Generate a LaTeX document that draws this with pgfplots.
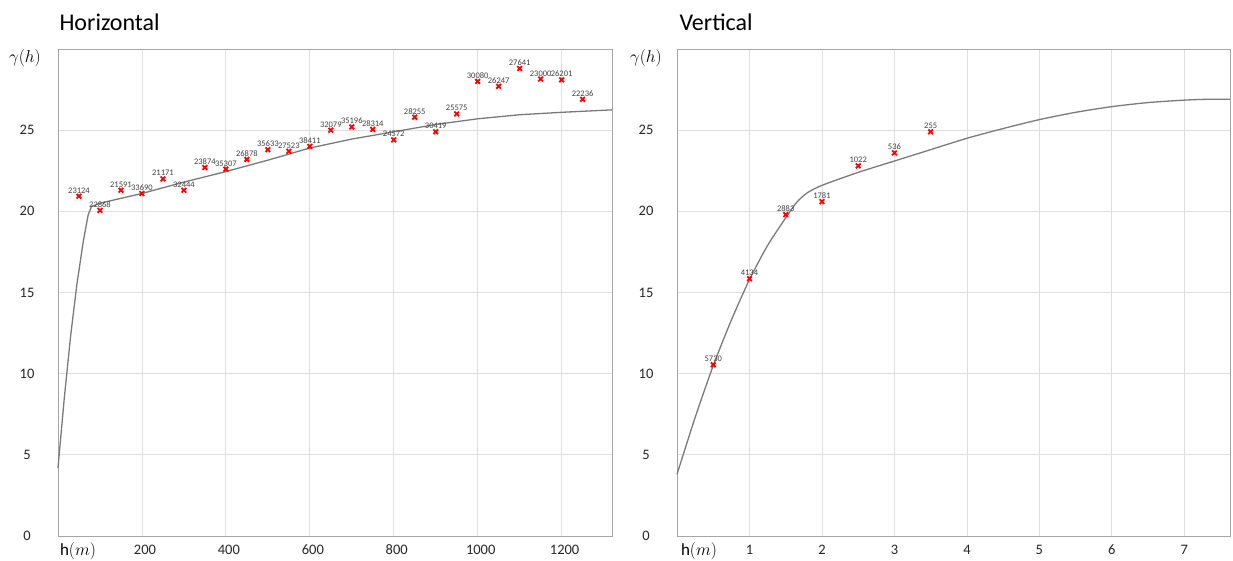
\documentclass[border=0pt]{standalone}
\usepackage{fontspec}
\setmainfont{Carlito}
\usepackage{pgfplots}
\pgfplotsset{compat=1.18}
\usepackage{pgfplotstable}

\definecolor{gridc}{HTML}{DFDFDF}
\definecolor{bordc}{HTML}{A6A6A6}
\definecolor{curvec}{HTML}{7A7A7A}
\definecolor{labc}{HTML}{262626}
\definecolor{ptlab}{HTML}{404040}

\pgfplotstableread{
x y lab
50 20.93 23124
100 20.06 22868
150 21.3 21591
200 21.1 33690
250 22.0 21171
300 21.3 32444
350 22.7 23874
400 22.6 35307
450 23.2 26878
500 23.8 35633
550 23.7 27523
600 24.0 38411
650 25.0 32079
700 25.2 35196
750 25.05 28314
800 24.4 24572
850 25.8 28255
900 24.9 30419
950 26.0 25575
1000 28.0 30080
1050 27.7 26247
1100 28.8 27641
1150 28.15 23000
1200 28.1 26201
1250 26.9 22236
}\horpts

\pgfplotstableread{
x y
0 4.2
15 8.5
30 12.3
45 15.5
60 18.1
72 19.8
80 20.3
100 20.5
150 20.8
200 21.1
300 21.8
400 22.45
500 23.15
600 23.9
700 24.45
800 24.9
900 25.35
1000 25.7
1100 25.95
1200 26.1
1320 26.25
}\horcurve

\pgfplotstableread{
x y lab
0.5 10.55 5730
1.0 15.85 4134
1.5 19.8 2883
2.0 20.6 1781
2.5 22.8 1022
3.0 23.6 536
3.5 24.9 255
}\verpts

\pgfplotstableread{
x y
0 3.8
0.25 7.3
0.5 10.5
0.75 13.3
1.0 15.8
1.25 17.9
1.5 19.6
1.65 20.55
1.8 21.15
2.0 21.6
2.5 22.4
3.0 23.1
3.5 23.8
4.0 24.5
4.5 25.1
5.0 25.65
5.5 26.1
6.0 26.45
6.5 26.7
7.0 26.85
7.3 26.9
7.63 26.9
}\vercurve

\pgfplotsset{vario/.style={
  scale only axis, height=487pt,
  ymin=0, ymax=30, ytick={0,5,...,25},
  grid=major, grid style={gridc, line width=0.8pt},
  axis line style={bordc, line width=0.8pt},
  major tick length=0pt,
  tick label style={font=\fontsize{14.5}{16}\selectfont, text=labc},
  /pgf/number format/assume math mode=true,
  /pgf/number format/1000 sep={},
  scaled ticks=false,
  yticklabel style={anchor=center, xshift=-31pt},
  xticklabel style={anchor=center, yshift=-14pt},
  clip=false,
},
curvest/.style={curvec, line width=1.3pt, no marks},
ptst/.style={only marks, mark=x, mark size=3.3pt, red, mark options={line width=1.8pt},
  nodes near coords, point meta=explicit symbolic,
  nodes near coords style={font=\fontsize{8.5}{9}\selectfont, text=ptlab, anchor=south, inner sep=2pt}}
}

\begin{document}
\begin{tikzpicture}
\path[use as bounding box] (0pt,0pt) rectangle (1233pt,561pt);
\begin{axis}[vario, at={(58pt,25pt)}, anchor=south west, width=554pt,
  xmin=0, xmax=1320, xtick={200,400,...,1200},
  xticklabel style={xshift=3pt}]
\addplot[curvest] table[x=x,y=y] {\horcurve};
\addplot[ptst] table[x=x,y=y,meta=lab] {\horpts};
\end{axis}
\begin{axis}[vario, at={(677pt,25pt)}, anchor=south west, width=553pt,
  xmin=0, xmax=7.63, xtick={1,2,...,7}]
\addplot[curvest, smooth, tension=0.4] table[x=x,y=y] {\vercurve};
\addplot[ptst] table[x=x,y=y,meta=lab] {\verpts};
\end{axis}
\node[anchor=west, font=\fontsize{24}{28}\selectfont] at (56pt,539pt) {Horizontal};
\node[anchor=west, font=\fontsize{24}{28}\selectfont] at (676pt,539pt) {Vertical};
\node[font=\fontsize{17}{20}\selectfont] at (25pt,503pt) {$\gamma(h)$};
\node[font=\fontsize{17}{20}\selectfont] at (646pt,503pt) {$\gamma(h)$};
\node[font=\fontsize{17}{20}\selectfont] at (78pt,10pt) {h$(m)$};
\node[font=\fontsize{17}{20}\selectfont] at (699pt,10pt) {h$(m)$};
\end{tikzpicture}
\end{document}
